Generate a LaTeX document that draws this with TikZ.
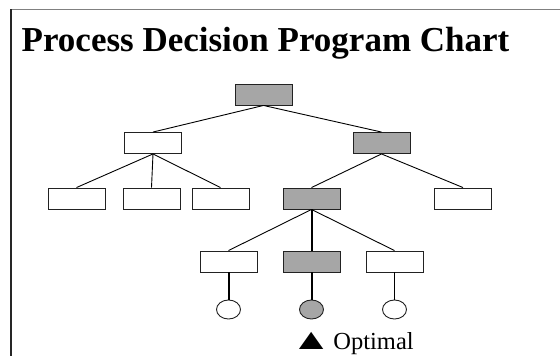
\documentclass[tikz,border=0pt]{standalone}
\usepackage{fontspec}
\usepackage{graphicx}
\setmainfont{Liberation Serif}
\usetikzlibrary{shapes.geometric}
\definecolor{boxgrey}{HTML}{A6A6A6}
\definecolor{edgegrey}{HTML}{222222}
\begin{document}
\begin{tikzpicture}[x=1pt,y=-1pt,
  pbox/.style={draw=edgegrey,line width=0.9pt,fill=white,minimum width=57pt,minimum height=21pt,inner sep=0pt},
  gbox/.style={pbox,fill=boxgrey},
  oval/.style={ellipse,draw=edgegrey,line width=0.9pt,fill=white,minimum width=24pt,minimum height=19pt,inner sep=0pt},
  goval/.style={oval,fill=boxgrey},
  thin link/.style={draw=black,line width=0.9pt},
  thick link/.style={draw=black,line width=2pt}]
\useasboundingbox (0,0) rectangle (560,356);
\draw[draw=gray,line width=0.9pt] (11,9) -- (561,9);
\draw[draw=black!85,line width=1.6pt] (11,9) -- (11,357);
\node[anchor=base,font=\bfseries\fontsize{35}{40}\selectfont,inner sep=0pt] (title) at (265.5,51) {Process Decision Program Chart};
% level 1
\node[gbox] (top) at (263.5,94.5) {};
% level 2
\node[pbox] (a) at (153,143) {};
\node[gbox] (b) at (381.5,143) {};
% level 3
\node[pbox] (a1) at (76.5,198.5) {};
\node[pbox] (a2) at (151.5,198.5) {};
\node[pbox] (a3) at (220.5,198.5) {};
\node[gbox] (b1) at (311.5,198.5) {};
\node[pbox] (b2) at (463,198.5) {};
% level 4
\node[pbox] (c1) at (228.5,261.5) {};
\node[gbox] (c2) at (311.5,261.5) {};
\node[pbox] (c3) at (394.5,261.5) {};
% outcomes
\node[oval] (o1) at (228.5,309.5) {};
\node[goval] (o2) at (311.5,309.5) {};
\node[oval] (o3) at (394.5,309.5) {};
% connectors
\draw[thin link] (top.south) -- (a.north);
\draw[thin link] (top.south) -- (b.north);
\draw[thin link] (a.south) -- (a1.north);
\draw[thin link] (a.south) -- (a2.north);
\draw[thin link] (a.south) -- (a3.north);
\draw[thin link] (b.south) -- (b1.north);
\draw[thin link] (b.south) -- (b2.north);
\draw[thin link] (b1.south) -- (c1.north);
\draw[thick link] (b1.south) -- (c2.north);
\draw[thin link] (b1.south) -- (c3.north);
\draw[thick link] (c1.south) -- (o1.north);
\draw[thick link] (c2.south) -- (o2.north);
\draw[thin link] (c3.south) -- (o3.north);
% label
\node[anchor=base west,font=\fontsize{24.5}{28}\selectfont,inner sep=0pt] (opt) at (290.5,349) {\scalebox{1.7}[1.2]{▲}\hspace{1.5pt}Optimal};
\end{tikzpicture}
\end{document}
